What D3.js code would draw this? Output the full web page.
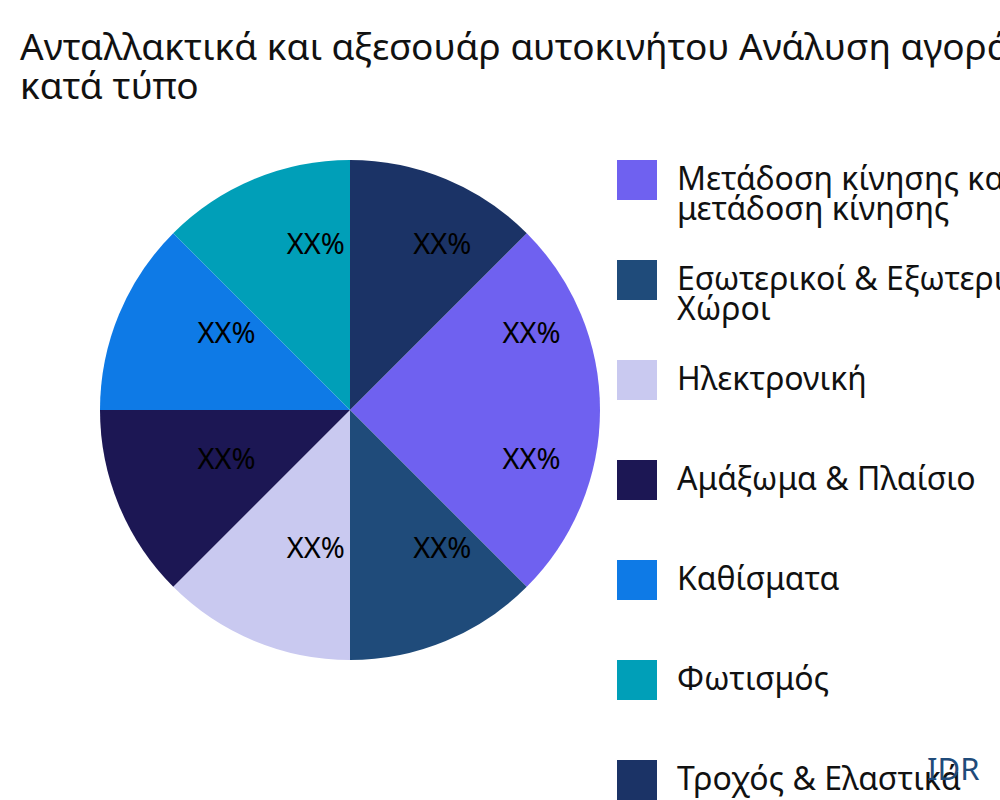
<!DOCTYPE html><html><head><meta charset="utf-8">
<script src="https://cdn.jsdelivr.net/npm/d3@7"></script>
<style>body{margin:0;background:#fff}text{font-family:"Noto Sans","Open Sans",sans-serif}</style></head><body>
<svg id="c" width="1000" height="800"></svg>
<script>
const categories=["Μετάδοση κίνησης και μετάδοση κίνησης","Εσωτερικοί & Εξωτερικοί Χώροι","Ηλεκτρονική","Αμάξωμα & Πλαίσιο","Καθίσματα","Φωτισμός","Τροχός & Ελαστικά"];
const legendLines=[["Μετάδοση κίνησης και","μετάδοση κίνησης"],["Εσωτερικοί & Εξωτερικοί","Χώροι"],["Ηλεκτρονική"],["Αμάξωμα & Πλαίσιο"],["Καθίσματα"],["Φωτισμός"],["Τροχός & Ελαστικά"]];
const sliceCats=[0,0,1,2,3,4,5,6];
const sliceValues=[12.5,12.5,12.5,12.5,12.5,12.5,12.5,12.5];
const sliceLabels=["XX%","XX%","XX%","XX%","XX%","XX%","XX%","XX%"];
const colors=["#6f61f0","#1f4b7a","#c9c9f0","#1c1754","#0e7ae6","#009fb8","#1b3366"];
const svg=d3.select("#c");
svg.append("text").attr("x",20).attr("y",60).attr("font-size",37).attr("fill","#111").text("Ανταλλακτικά και αξεσουάρ αυτοκινήτου Ανάλυση αγοράς");
svg.append("text").attr("x",20).attr("y",99).attr("font-size",37).attr("fill","#111").text("κατά τύπο");
const pie=d3.pie().sort(null).value(d=>d.v).startAngle(Math.PI/4).endAngle(Math.PI/4+2*Math.PI);
const data=pie(sliceValues.map((v,i)=>({v,c:sliceCats[i],l:sliceLabels[i]})));
const g=svg.append("g").attr("transform","translate(350,410)");
const arc=d3.arc().innerRadius(0).outerRadius(250);
const la=d3.arc().innerRadius(165).outerRadius(165);
g.selectAll("path").data(data).join("path").attr("d",arc).attr("fill",d=>colors[d.data.c]);
g.selectAll("text").data(data).join("text").attr("transform",d=>`translate(${la.centroid(d)})`)
 .attr("text-anchor","start").attr("dy","-4").attr("font-size",29).attr("fill","#000").text(d=>d.data.l);
const lg=svg.append("g");
categories.forEach((c,i)=>{
 const y=160+i*100;
 lg.append("rect").attr("x",617).attr("y",y).attr("width",40).attr("height",40).attr("fill",colors[i]);
 legendLines[i].forEach((t,j)=>lg.append("text").attr("x",677).attr("y",y+30+j*30).attr("font-size",32).attr("fill","#111").text(t));
});
svg.append("text").attr("x",927).attr("y",780).attr("font-size",31).attr("fill","#1f4b7a").text("IDR");
</script></body></html>
